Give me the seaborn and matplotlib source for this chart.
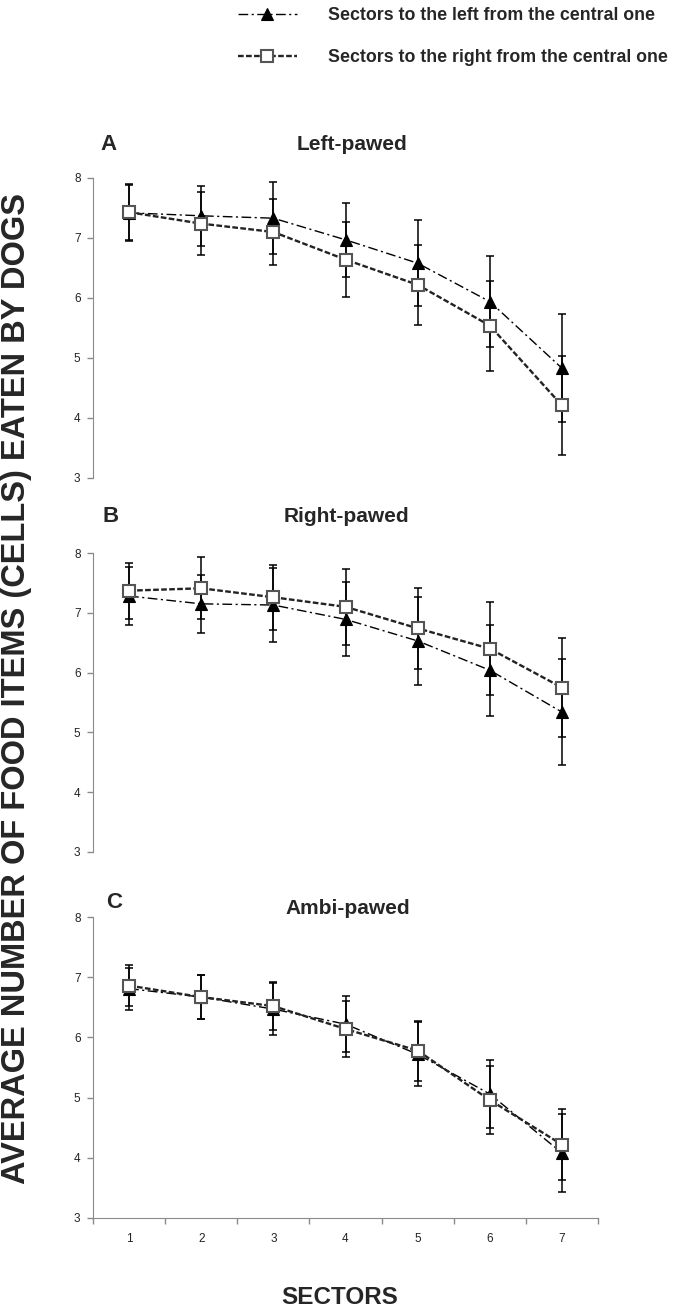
"""Food items eaten per sector by left-, right- and ambi-pawed dogs."""

import matplotlib

matplotlib.use("Agg")
import matplotlib.pyplot as plt
import numpy as np
import seaborn as sns

SECTORS = [1, 2, 3, 4, 5, 6, 7]
PANEL_TITLES = ["Left-pawed", "Right-pawed", "Ambi-pawed"]
PANEL_LETTERS = ["A", "B", "C"]
SERIES_LABELS = [
	"Sectors to the left from the central one",
	"Sectors to the right from the central one",
]

# means and error bars, one list per panel and side
LEFT_A = [7.42, 7.37, 7.33, 6.97, 6.58, 5.94, 4.83]
LEFT_A_ERR = [0.47, 0.50, 0.60, 0.62, 0.72, 0.76, 0.90]
RIGHT_A = [7.43, 7.24, 7.10, 6.64, 6.22, 5.54, 4.21]
RIGHT_A_ERR = [0.47, 0.53, 0.55, 0.63, 0.67, 0.75, 0.83]

LEFT_B = [7.28, 7.15, 7.13, 6.89, 6.53, 6.04, 5.34]
LEFT_B_ERR = [0.48, 0.49, 0.62, 0.62, 0.73, 0.76, 0.89]
RIGHT_B = [7.37, 7.41, 7.26, 7.10, 6.74, 6.40, 5.75]
RIGHT_B_ERR = [0.47, 0.52, 0.54, 0.64, 0.68, 0.78, 0.83]

LEFT_C = [6.81, 6.67, 6.47, 6.22, 5.72, 5.06, 4.08]
LEFT_C_ERR = [0.35, 0.36, 0.43, 0.46, 0.53, 0.56, 0.64]
RIGHT_C = [6.86, 6.67, 6.52, 6.14, 5.78, 4.96, 4.22]
RIGHT_C_ERR = [0.34, 0.37, 0.40, 0.47, 0.50, 0.56, 0.59]

Y_TICKS = [3, 4, 5, 6, 7, 8]

sns.set_style("ticks")
plt.rcParams["font.family"] = ["Liberation Sans", "DejaVu Sans"]
AXIS_GREY = "#8a8a8a"

W, H = 700, 1311
fig = plt.figure(figsize=(W / 100, H / 100), dpi=100)

# axes boxes in pixels: (top, bottom) of each panel
panel_px = [(178, 478), (553, 852), (917, 1218)]
letter_px = [(100, 144), (103, 517), (106, 903)]
title_px = [(352, 144), (346, 517), (348, 908)]
data = [
	(LEFT_A, LEFT_A_ERR, RIGHT_A, RIGHT_A_ERR),
	(LEFT_B, LEFT_B_ERR, RIGHT_B, RIGHT_B_ERR),
	(LEFT_C, LEFT_C_ERR, RIGHT_C, RIGHT_C_ERR),
]

axes = []
for i, ((top, bottom), (left, left_err, right, right_err)) in enumerate(
	zip(panel_px, data)
):
	ax = fig.add_axes([93 / W, 1 - bottom / H, 505 / W, (bottom - top) / H])
	axes.append(ax)

	for mean, err in [(left, left_err), (right, right_err)]:
		ax.errorbar(
			SECTORS, mean, yerr=err, fmt="none", ecolor="black",
			elinewidth=1.1, capsize=2.6, capthick=1.1, zorder=2,
		)

	sns.lineplot(
		x=SECTORS, y=left, ax=ax, color="black", linewidth=1.0,
		linestyle=(0, (7, 2.5, 1.5, 2.5)), marker="^", markersize=9,
		markerfacecolor="black", markeredgecolor="black", markeredgewidth=0.8,
		label=SERIES_LABELS[0], legend=False, zorder=3,
	)
	sns.lineplot(
		x=SECTORS, y=right, ax=ax, color="#222222", linewidth=1.7,
		linestyle=(0, (2.4, 1.0)), marker="s", markersize=8.5,
		markerfacecolor="white", markeredgecolor="#555555", markeredgewidth=1.5,
		label=SERIES_LABELS[1], legend=False, zorder=4,
	)

	ax.set_xlim(0.5, 7.5)
	ax.set_ylim(3, 8)
	ax.set_yticks(Y_TICKS)
	ax.set_xlabel("")
	ax.set_ylabel("")
	ax.tick_params(axis="y", length=4, width=1, color=AXIS_GREY, labelsize=8.5,
		labelcolor="#222222", pad=5)
	for side in ["top", "right"]:
		ax.spines[side].set_visible(False)
	ax.spines["left"].set_color(AXIS_GREY)
	ax.spines["bottom"].set_color(AXIS_GREY)

	if i < 2:
		ax.spines["bottom"].set_visible(False)
		ax.set_xticks([])
	else:
		ax.set_xticks(SECTORS)
		ax.set_xticks(np.arange(0.5, 8, 1), minor=True)
		ax.tick_params(axis="x", which="major", length=0, labelsize=8.5,
			labelcolor="#222222", pad=11)
		ax.tick_params(axis="x", which="minor", length=4, width=1, color=AXIS_GREY)

	lx, ly = letter_px[i]
	fig.text(lx / W, 1 - ly / H, PANEL_LETTERS[i], ha="left", va="center",
		fontsize=16, fontweight="bold")
	tx, ty = title_px[i]
	fig.text(tx / W, 1 - ty / H, PANEL_TITLES[i], ha="center", va="center",
		fontsize=15, fontweight="bold")

fig.text(17 / W, 1 - 689 / H, "AVERAGE NUMBER OF FOOD ITEMS (CELLS) EATEN BY DOGS",
	rotation=90, ha="center", va="center", fontsize=23.5, fontweight="bold")
fig.text(340 / W, 1 - 1298 / H, "SECTORS", ha="center", va="center",
	fontsize=17.5, fontweight="bold")

handles, labels = axes[0].get_legend_handles_labels()
fig.legend(
	handles, labels, loc="upper left", bbox_to_anchor=(238 / W, 1 - 7 / H),
	frameon=False, handlelength=3.3, handletextpad=1.75, labelspacing=1.4,
	borderpad=0, borderaxespad=0, numpoints=1,
	prop={"weight": "bold", "size": 12.8},
)

fig.savefig("out.png", dpi=100)
